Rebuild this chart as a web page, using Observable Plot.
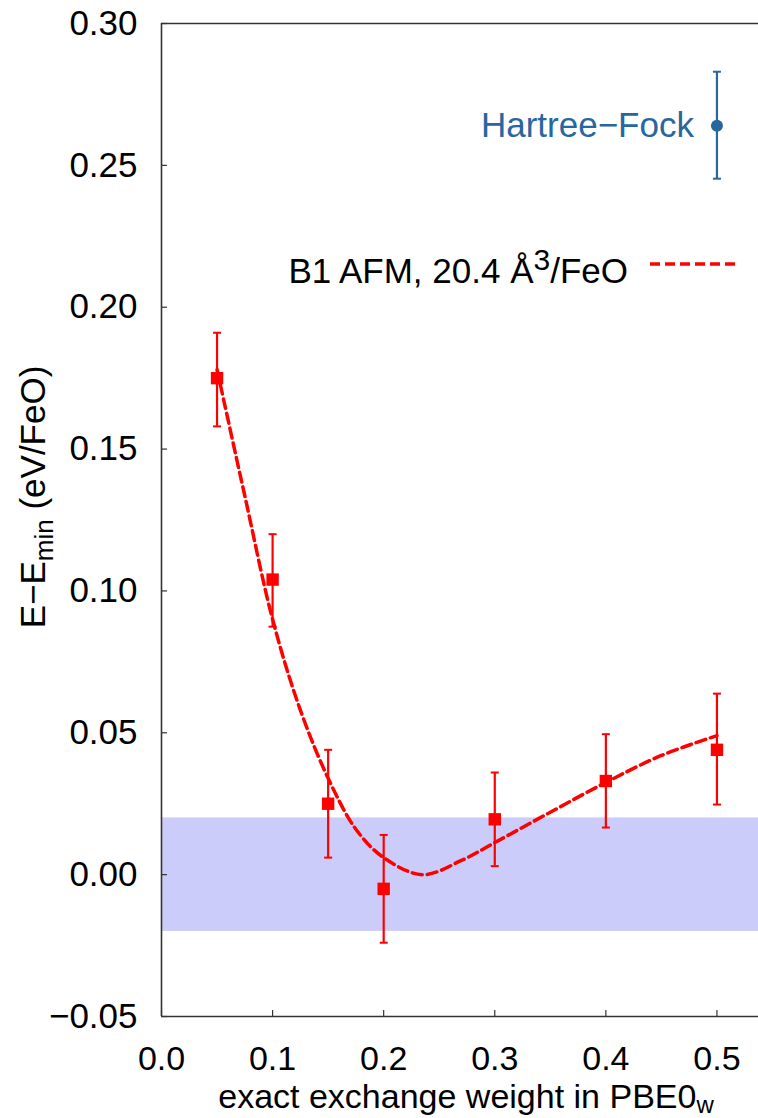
<!DOCTYPE html>
<html><head><meta charset="utf-8">
<script src="https://cdn.jsdelivr.net/npm/d3@7"></script>
<script src="https://cdn.jsdelivr.net/npm/@observablehq/plot@0.6"></script>
<style>body{margin:0;background:#fff} svg{display:block}</style>
</head><body><div id="chart"></div>
<script>
// ---- data ----
const weights  = [0.05, 0.10, 0.15, 0.20, 0.30, 0.40, 0.50];
const energies = [0.175, 0.104, 0.025, -0.005, 0.0195, 0.033, 0.044];
const errLow   = [0.158, 0.0874, 0.006, -0.024, 0.003, 0.0166, 0.0247];
const errHigh  = [0.191, 0.120, 0.044, 0.014, 0.036, 0.0495, 0.0638];

const fitX = [0.05, 0.075, 0.10, 0.125, 0.15, 0.175, 0.20, 0.235, 0.27, 0.30, 0.35, 0.40, 0.45, 0.50];
const fitY = [0.178, 0.1335, 0.090, 0.058, 0.034, 0.016, 0.006, 0.0, 0.005, 0.0113, 0.022, 0.0325, 0.042, 0.049];

const hfX = [0.5], hfY = [0.264], hfLow = [0.2453], hfHigh = [0.283];
const hfLabel = ["Hartree−Fock"];

const bandLow = -0.02, bandHigh = 0.02;
const xTicks = [0, 0.1, 0.2, 0.3, 0.4, 0.5];
const yTicks = [-0.05, 0, 0.05, 0.10, 0.15, 0.20, 0.25, 0.30];
const xDomain = [0, 0.5374], yDomain = [-0.05, 0.30];

// ---- tables ----
const pts = weights.map((w, i) => ({x: w, y: energies[i], lo: errLow[i], hi: errHigh[i]}));
const fit = fitX.map((x, i) => ({x, y: fitY[i]}));
const hf = hfX.map((x, i) => ({x, y: hfY[i], lo: hfLow[i], hi: hfHigh[i], label: hfLabel[i]}));

const RED = "#ff0000", BLUE = "#2866a0", AXIS = "#333";
const FONT = "'Liberation Sans', Arial, Helvetica, sans-serif";
const W = 758, H = 1118, ML = 161, MT = 23, MB = 102, MR = 0;
const frameW = W - ML - MR, frameH = H - MT - MB;

const cap = {draw(ctx, size) { const r = Math.sqrt(size / Math.PI); ctx.moveTo(-r, 0); ctx.lineTo(r, 0); }};

const plot = Plot.plot({
  width: W, height: H,
  marginLeft: ML, marginTop: MT, marginBottom: MB, marginRight: MR,
  style: {fontFamily: FONT, fontSize: "35px", background: "#fff", color: "#000"},
  x: {domain: xDomain, label: null},
  y: {domain: yDomain, label: null},
  marks: [
    Plot.rect([{}], {x1: xDomain[0], x2: xDomain[1], y1: bandLow, y2: bandHigh, fill: "#ccccfa"}),
    Plot.ruleX(xTicks, {insetTop: frameH - 6, stroke: AXIS, strokeWidth: 1.2}),
    Plot.ruleY(yTicks, {insetRight: frameW - 6, stroke: AXIS, strokeWidth: 1.2}),
    Plot.ruleX([xDomain[0]], {stroke: AXIS, strokeWidth: 1.6}),
    Plot.ruleY([yDomain[0]], {stroke: AXIS, strokeWidth: 1.6}),
    Plot.ruleY([yDomain[1]], {stroke: AXIS, strokeWidth: 1.6}),
    Plot.axisX({ticks: xTicks, tickSize: 0, tickPadding: 29, tickFormat: d3.format(".1f"), fontSize: 34, label: null}),
    Plot.axisY({ticks: yTicks, tickSize: 0, tickPadding: 24, tickFormat: d3.format(".2f"), fontSize: 35, label: null}),
    Plot.line(fit, {x: "x", y: "y", stroke: RED, strokeWidth: 3.5, strokeDasharray: "10,5", curve: "catmull-rom"}),
    Plot.ruleX(pts, {x: "x", y1: "lo", y2: "hi", stroke: RED, strokeWidth: 2.2}),
    Plot.dot(pts, {x: "x", y: "lo", symbol: cap, r: 4, stroke: RED, strokeWidth: 2}),
    Plot.dot(pts, {x: "x", y: "hi", symbol: cap, r: 4, stroke: RED, strokeWidth: 2}),
    Plot.dot(pts, {x: "x", y: "y", symbol: "square", r: 7, fill: RED, stroke: "none"}),
    Plot.ruleX(hf, {x: "x", y1: "lo", y2: "hi", stroke: BLUE, strokeWidth: 2.2}),
    Plot.dot(hf, {x: "x", y: "lo", symbol: cap, r: 4, stroke: BLUE, strokeWidth: 2}),
    Plot.dot(hf, {x: "x", y: "hi", symbol: cap, r: 4, stroke: BLUE, strokeWidth: 2}),
    Plot.dot(hf, {x: "x", y: "y", r: 6, fill: BLUE, stroke: "none"}),
    Plot.text(hf, {x: "x", y: "y", text: "label", dx: -23, textAnchor: "end", lineAnchor: "middle", fill: BLUE, fontSize: 35})
  ]
});
document.getElementById("chart").appendChild(plot);

// ---- axis titles and key (with sub/superscripts) ----
const svg = d3.select(plot);
const yl = svg.append("text")
  .attr("transform", "translate(45,497) rotate(-90)")
  .attr("text-anchor", "middle").attr("font-size", 35).attr("font-family", FONT).attr("fill", "#000");
yl.append("tspan").text("E−E");
yl.append("tspan").attr("font-size", 26).attr("dy", 8).text("min");
yl.append("tspan").attr("dy", -8).text(" (eV/FeO)");

const xl = svg.append("text")
  .attr("x", 466).attr("y", 1107.5)
  .attr("text-anchor", "middle").attr("font-size", 34).attr("font-family", FONT).attr("fill", "#000");
xl.append("tspan").text("exact exchange weight in PBE0");
xl.append("tspan").attr("font-size", 24).attr("dy", 5).text("w");

const key = svg.append("text")
  .attr("x", 628).attr("y", 283)
  .attr("text-anchor", "end").attr("font-size", 35).attr("font-family", FONT).attr("fill", "#000");
key.append("tspan").text("B1 AFM, 20.4 Å");
key.append("tspan").attr("font-size", 30).attr("dy", -13).text("3");
key.append("tspan").attr("dy", 13).text("/FeO");
svg.append("line")
  .attr("x1", 650).attr("x2", 738).attr("y1", 264).attr("y2", 264)
  .attr("stroke", RED).attr("stroke-width", 3.5).attr("stroke-dasharray", "10,5");
</script>
</body></html>
